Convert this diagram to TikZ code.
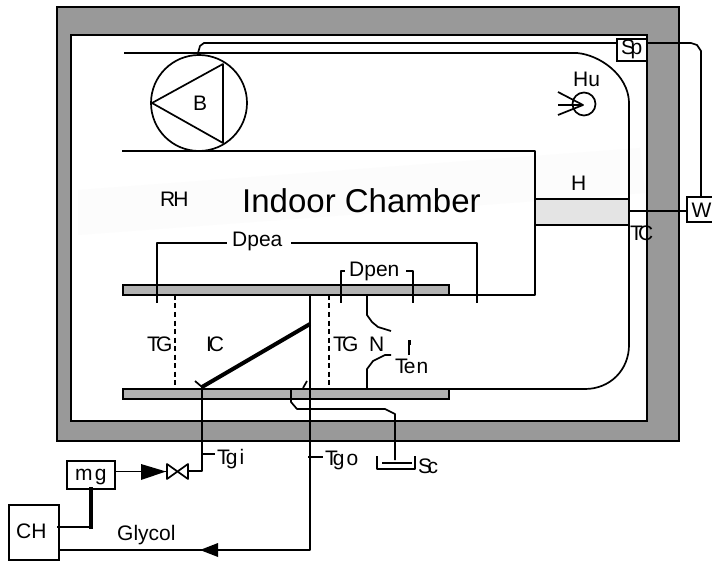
\documentclass[tikz,border=0pt]{standalone}
\usepackage{fontspec}
\setmainfont{Liberation Sans}
\usetikzlibrary{calc}
\definecolor{wallgray}{HTML}{999999}
\definecolor{plategray}{HTML}{B2B2B2}
\definecolor{heatgray}{HTML}{E4E4E4}
\definecolor{bandgray}{HTML}{FCFCFC}
\tikzset{
  pipe/.style={draw=black,line width=1.7pt,line join=round},
  thickpipe/.style={draw=black,line width=4pt},
  lab/.style={inner sep=0pt,anchor=base west,font=\fontsize{21}{21}\selectfont},
  boxed/.style={draw=black,line width=1.7pt,inner sep=0pt,outer sep=0pt,fill=white},
  plate/.style={draw=black,line width=1.7pt,fill=plategray,inner sep=0pt,outer sep=0pt},
  tip/.style={fill=black,draw=none}
}
\begin{document}
\begin{tikzpicture}[x=1pt,y=-1pt]
\useasboundingbox (0,0) rectangle (712,561);
% walls
\draw[line width=1.7pt,fill=wallgray] (57,7) rectangle (679,441);
\draw[line width=1.7pt,fill=white] (71,35) rectangle (647,421);
\fill[bandgray] (78,190) -- (640,148) -- (645,193) -- (78,235) -- cycle;
% plates and heater
\node[plate,minimum width=326pt,minimum height=10pt,anchor=north west] (upper) at (123,285) {};
\node[plate,minimum width=326pt,minimum height=10pt,anchor=north west] (lower) at (123,389) {};
\node[plate,fill=heatgray,minimum width=94pt,minimum height=26pt,anchor=north west] (heater) at (535,199) {};
% boxes
\node[boxed,minimum width=30pt,minimum height=22pt,anchor=north west] (sp) at (617,39) {};
\node[boxed,minimum width=40pt,minimum height=25pt,anchor=north west] (wbox) at (687,197) {};
\node[boxed,minimum width=48pt,minimum height=28pt,anchor=north west] (mgbox) at (67,461) {};
\node[boxed,minimum width=50pt,minimum height=55pt,anchor=north west,fill=none] (chbox) at (9,505) {};
\node[boxed,fill=none,circle,minimum size=96pt] (fan) at (199,103) {};
\node[boxed,fill=none,circle,minimum size=23pt] (hum) at (584,104) {};
% named points
\coordinate (ductTL) at (124,53);
\coordinate (ductBL) at (122,151);
\coordinate (ductBR) at (535,151);
\coordinate (retR) at (535,295);
\coordinate (lowR) at (449,389);
\coordinate (fanTop) at (198,53);
\coordinate (spL) at (617,43);
\coordinate (spR) at (647,43);
\coordinate (wTop) at (701,197);
\coordinate (wL) at (687,211);
\coordinate (heatR) at (629,211);
\coordinate (triA) at (152,103);
\coordinate (triB) at (223,64);
\coordinate (triC) at (223,143);
\coordinate (humC) at (583,105);
% duct
\draw[pipe] (ductTL) -- (577,53) .. controls (600,55) and (628,75) .. (629,102) -- (629,345)
  .. controls (629,370) and (610,389) .. (585,389) -- (lowR);
\draw[pipe] (ductBL) -- (ductBR) -- (retR) -- (449,295);
% pressure tube to Sp and W
\draw[pipe] (fanTop) -- (200,46) -- (204,43) -- (spL);
\draw[pipe] (spR) -- (691,43) -- (697,45) -- (701,51) -- (wTop);
\draw[pipe] (wL) -- (heatR);
% fan triangle and humidifier
\draw[pipe] (triA) -- (triB) -- (triC) -- cycle;
\draw[pipe] (558,92) -- (humC) -- (558,115);
\draw[pipe] (558,105) -- (humC);
% Dpea, Dpen
\draw[pipe] (157,303) -- (157,243) -- (227,243);
\draw[pipe] (291,243) -- (477,243) -- (477,303);
\draw[pipe] (341,303) -- (341,271) -- (345,271);
\draw[pipe] (413,303) -- (413,271) -- (406,271);
% dashed TG lines
\draw[pipe,dash pattern=on 5pt off 3.5pt] (175,295) -- (175,389);
\draw[pipe,dash pattern=on 5pt off 3.5pt] (329,295) -- (329,389);
% coil
\coordinate (coilA) at (202,387);
\coordinate (coilB) at (310,324);
\draw[thickpipe] (coilA) -- (coilB);
\draw[pipe] (195,381) -- (coilA);
\draw[pipe] (303,388) -- (307,381);
% glycol out
\coordinate (tipGl) at (200,550);
\draw[pipe,line width=2pt] (310,295) -- (310,550) -- (chbox.east |- tipGl);
\fill[tip] (200,550) -- (218,543) -- (218,557) -- cycle;
\draw[pipe] (308,457) -- (323,457);
% glycol in
\coordinate (valve) at (177.5,471.5);
\draw[pipe] (167,464) -- (188,479) -- (188,464) -- (167,479) -- cycle;
\draw[pipe] (coilA) -- (202,471) -- (188,471);
\draw[pipe] (202,454) -- (215,454);
\draw[pipe] (mgbox.east |- valve) -- (167,471.5);
\fill[tip] (166,471.5) -- (141,464) -- (141,480) -- cycle;
\draw[pipe] (57,527) -- (91,527);
\draw[thickpipe] (91,529) -- (91,487);
% nozzle
\draw[pipe] (367,295) -- (367,315) -- (372,322) -- (378,327) -- (391,331);
\draw[pipe] (367,389) -- (367,369) -- (373,361) -- (385,355) -- (391,355);
% Ten sensor
\draw[pipe] (409,355) -- (409,341);
\draw[line width=3pt] (409,345) -- (409,340);
% Sc
\draw[pipe] (291,389) -- (291,402) -- (297,409) -- (385,409) -- (395,414) -- (395,460);
\draw[pipe] (377,456) -- (377,469) -- (415,469) -- (415,456);
\draw[pipe] (382,463) -- (412,463);
% labels
\node[lab] (lB) at (193,111) {B};
\node[lab] (lHu) at (573,87) {Hu};
\node[lab] (lH) at (571,191) {H};
\node[lab] (lRH) at (160,207) {R\kern-.1em H};
\node[lab,font=\fontsize{33}{33}\selectfont] (lIC) at (242,213) {Indoor Chamber};
\node[lab] (lTC) at (630,241) {T\kern-.23em C};
\node[lab] (lW) at (691.5,218) {W};
\node[lab] (lSp) at (621,55) {S\kern-.22em p};
\node[lab] (lDpea) at (232,247) {Dpea};
\node[lab] (lDpen) at (349,277) {Dpen};
\node[lab] (lTG1) at (147,351) {T\kern-.19em G};
\node[lab] (lIC2) at (206,351) {I\kern-.15em C};
\node[lab] (lTG2) at (333,351) {T\kern-.19em G};
\node[lab] (lN) at (369,351) {N};
\node[lab] (lTen) at (395,373) {T\kern-.2em e\kern.05em n};
\node[lab] (lTgi) at (217,464) {T\kern-.2em g\kern.1em i};
\node[lab] (lTgo) at (325,465) {T\kern-.25em g\kern.1em o};
\node[lab] (lSc) at (418,473) {S\kern-.22em c};
\node[lab] (lmg) at (75,480) {m\kern.1em g};
\node[lab] (lCH) at (16,538) {CH};
\node[lab] (lGl) at (117,540) {Glycol};
\end{tikzpicture}
\end{document}
